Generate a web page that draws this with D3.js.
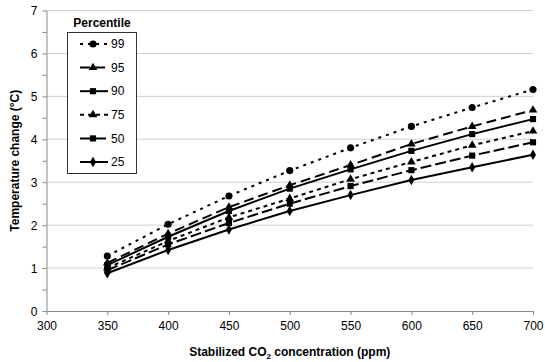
<!DOCTYPE html>
<html>
<head>
<meta charset="utf-8">
<script src="https://cdn.jsdelivr.net/npm/d3@7"></script>
<style>
  html, body { margin: 0; padding: 0; background: #fff; }
  svg { display: block; font-family: "Liberation Sans", Arial, sans-serif; }
</style>
</head>
<body>
<svg id="chart" width="545" height="362"></svg>
<script>
// CO2 stabilization levels (ppm)
const concentrations = [350, 400, 450, 500, 550, 600, 650, 700];

// Warming (°C) for each percentile of the distribution
const p99 = [1.28, 2.02, 2.68, 3.27, 3.80, 4.30, 4.74, 5.16];
const p95 = [1.12, 1.80, 2.42, 2.93, 3.40, 3.89, 4.30, 4.68];
const p90 = [1.07, 1.73, 2.33, 2.85, 3.30, 3.73, 4.12, 4.47];
const p75 = [1.00, 1.63, 2.18, 2.62, 3.07, 3.47, 3.86, 4.19];
const p50 = [0.95, 1.55, 2.05, 2.50, 2.91, 3.28, 3.62, 3.93];
const p25 = [0.88, 1.42, 1.90, 2.33, 2.70, 3.05, 3.35, 3.64];

const percentileLabels = ["99", "95", "90", "75", "50", "25"];
const xTickValues = [300, 350, 400, 450, 500, 550, 600, 650, 700];
const yTickValues = [0, 1, 2, 3, 4, 5, 6, 7];

const seriesValues = [p99, p95, p90, p75, p50, p25];
const styles = [
  { dash: "3,5",  marker: "circle" },
  { dash: "10,5", marker: "triangle" },
  { dash: null,   marker: "square" },
  { dash: "4,4",  marker: "triangle" },
  { dash: "11,4", marker: "square" },
  { dash: null,   marker: "diamond" }
];
const series = percentileLabels.map((label, i) => ({
  label,
  values: seriesValues[i].map((v, j) => ({ x: concentrations[j], y: v })),
  ...styles[i]
}));

const svg = d3.select("#chart");
const plotLeft = 46.5, plotRight = 533, plotTop = 10.5, plotBottom = 311;

const x = d3.scaleLinear().domain([300, 700]).range([plotLeft, plotRight]);
const y = d3.scaleLinear().domain([0, 7]).range([plotBottom, plotTop]);

// horizontal gridlines
svg.append("g")
  .selectAll("line")
  .data(yTickValues.slice(1))
  .join("line")
  .attr("x1", plotLeft).attr("x2", plotRight)
  .attr("y1", d => y(d)).attr("y2", d => y(d))
  .attr("stroke", "#cfcfcf").attr("stroke-width", 1);

// y axis with minor ticks at half units
const yAxisG = svg.append("g").attr("transform", `translate(${plotLeft},0)`);
yAxisG.call(d3.axisLeft(y).tickValues(d3.range(0, 7.01, 0.5)).tickSize(4).tickSizeOuter(0).tickFormat(""))
  .call(g => g.select(".domain").attr("stroke", "#888"))
  .call(g => g.selectAll(".tick line").attr("stroke", "#888"));
yAxisG.call(g => g.selectAll(".tick").filter(d => Number.isInteger(d))
    .append("text")
    .attr("x", -9).attr("dy", "0.35em")
    .attr("text-anchor", "end")
    .attr("fill", "#000").attr("font-size", 12)
    .attr("font-family", "Liberation Sans, Arial, sans-serif")
    .text(d => d));

// x axis
const xAxisG = svg.append("g").attr("transform", `translate(0,${plotBottom})`);
xAxisG.call(d3.axisBottom(x).tickValues(xTickValues).tickSize(4).tickSizeOuter(0).tickPadding(6))
  .call(g => g.select(".domain").attr("stroke", "#888"))
  .call(g => g.selectAll(".tick line").attr("stroke", "#888"))
  .call(g => g.selectAll(".tick text").attr("font-size", 12).attr("fill", "#000")
    .attr("font-family", "Liberation Sans, Arial, sans-serif"));

// axis titles
svg.append("text")
  .attr("transform", `translate(19,${(plotTop + plotBottom) / 2}) rotate(-90)`)
  .attr("text-anchor", "middle")
  .attr("font-size", 12).attr("font-weight", "bold")
  .text("Temperature change (°C)");

const xt = svg.append("text")
  .attr("x", (plotLeft + plotRight) / 2).attr("y", 356)
  .attr("text-anchor", "middle")
  .attr("font-size", 12).attr("font-weight", "bold");
xt.append("tspan").text("Stabilized CO");
xt.append("tspan").attr("font-size", 8).attr("dy", 3).text("2");
xt.append("tspan").attr("dy", -3).text(" concentration (ppm)");

// marker drawing
const symbolFor = {
  circle: d3.symbol().type(d3.symbolCircle).size(40),
  triangle: d3.symbol().type(d3.symbolTriangle).size(32),
  square: d3.symbol().type(d3.symbolSquare).size(38),
  diamond: d3.symbol().type(d3.symbolDiamond).size(32)
};

const line = d3.line().x(d => x(d.x)).y(d => y(d.y));

const seriesG = svg.append("g")
  .selectAll("g")
  .data(series)
  .join("g");

seriesG.append("path")
  .attr("d", d => line(d.values))
  .attr("fill", "none")
  .attr("stroke", "#000")
  .attr("stroke-width", 2)
  .attr("stroke-dasharray", d => d.dash);

seriesG.each(function (s) {
  d3.select(this).selectAll("path.m")
    .data(s.values)
    .join("path")
    .attr("class", "m")
    .attr("transform", d => `translate(${x(d.x)},${y(d.y)})`)
    .attr("d", symbolFor[s.marker]())
    .attr("fill", "#000");
});

// legend
svg.append("text")
  .attr("x", 102).attr("y", 27)
  .attr("text-anchor", "middle")
  .attr("font-size", 12).attr("font-weight", "bold")
  .text("Percentile");

svg.append("rect")
  .attr("x", 67.5).attr("y", 32.5)
  .attr("width", 69).attr("height", 141)
  .attr("fill", "#fff").attr("stroke", "#333").attr("stroke-width", 1);

const legendItem = svg.append("g")
  .selectAll("g")
  .data(series)
  .join("g")
  .attr("transform", (d, i) => `translate(0,${44 + i * 23.6})`);

legendItem.append("line")
  .attr("x1", 80).attr("x2", 108)
  .attr("stroke", "#000").attr("stroke-width", 2)
  .attr("stroke-dasharray", d => d.dash);

legendItem.append("path")
  .attr("transform", "translate(93,0)")
  .attr("d", d => symbolFor[d.marker]())
  .attr("fill", "#000");

legendItem.append("text")
  .attr("x", 111).attr("dy", "0.35em")
  .attr("font-size", 12)
  .text(d => d.label);
</script>
</body>
</html>
